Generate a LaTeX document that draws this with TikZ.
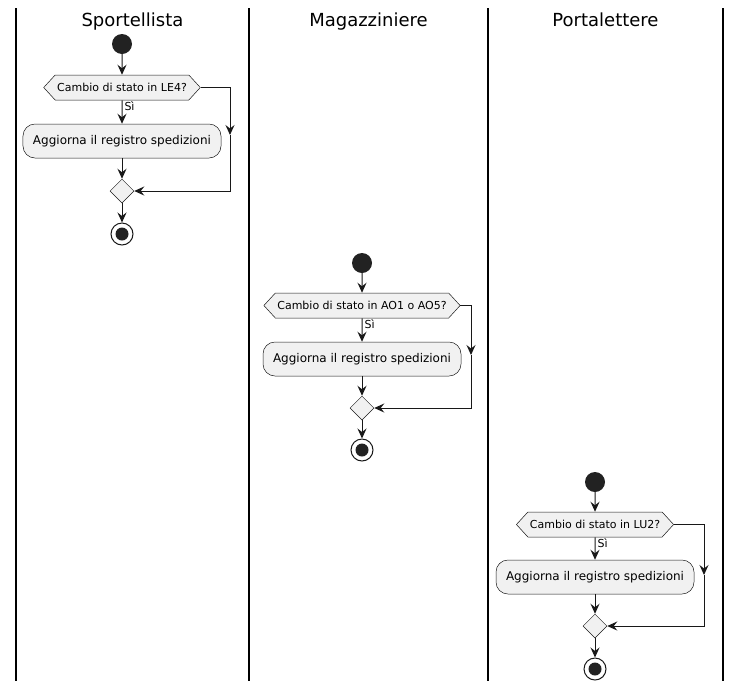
\documentclass[tikz,border=0pt]{standalone}
\usepackage{fontspec}
\setmainfont{DejaVu Sans}
\usetikzlibrary{shapes.geometric}
\usetikzlibrary{shapes.symbols}
\usetikzlibrary{arrows.meta}

\definecolor{pu_line}{HTML}{181818}
\definecolor{pu_dot}{HTML}{222222}
\definecolor{pu_fill}{HTML}{F1F1F1}

\begin{document}
\begin{tikzpicture}[x=1pt,y=-1pt,
  lane/.style={draw=black,line width=1.5pt},
  lane title/.style={font=\fontsize{18}{20}\selectfont,anchor=base},
  start/.style={circle,fill=pu_dot,minimum size=20pt,inner sep=0pt},
  stop/.style={circle,draw=pu_line,line width=1pt,fill=white,minimum size=22pt,inner sep=0pt,path picture={\fill[pu_dot] (path picture bounding box.center) circle (6.5pt);}},
  decision/.style={signal,signal to=west and east,signal pointer angle=95,draw=pu_line,line width=0.5pt,fill=pu_fill,minimum height=25pt,inner xsep=2pt,inner ysep=0pt,font=\fontsize{11}{13}\selectfont},
  action/.style={rectangle,rounded corners=12pt,draw=pu_line,line width=0.5pt,fill=pu_fill,minimum height=34pt,inner xsep=10pt,font=\fontsize{12}{14}\selectfont},
  merge/.style={diamond,aspect=1,draw=pu_line,line width=0.5pt,fill=pu_fill,minimum size=24pt,inner sep=0pt},
  flow/.style={draw=pu_line,line width=1pt,-{Stealth[length=10pt,width=9pt,inset=3.5pt]}},
  yes/.style={anchor=west,inner sep=2pt,font=\fontsize{11}{13}\selectfont}
  ]

\useasboundingbox (0,0) rectangle (741,689);

% swimlanes
\draw[lane] (16,8) -- (16,681);
\draw[lane] (249,8) -- (249,681);
\draw[lane] (488,8) -- (488,681);
\draw[lane] (723,8) -- (723,681);

\node[lane title] (title1) at (132.5,26) {Sportellista};
\node[lane title] (title2) at (368.5,26) {Magazziniere};
\node[lane title] (title3) at (605.5,26) {Portalettere};

% Sportellista
\node[start] (start1) at (122,44) {};
\node[decision] (dec1) at (122,87.5) {Cambio di stato in LE4?};
\node[action] (act1) at (122,141) {Aggiorna il registro spedizioni};
\node[merge] (merge1) at (122,191) {};
\node[stop] (stop1) at (122,234) {};
\coordinate (br1) at (230,135);

\draw[flow] (start1) -- (dec1);
\draw[flow] (dec1) -- node[yes,pos=0.25] {Sì} (act1);
\draw[flow] (act1) -- (merge1);
\draw[flow] (dec1.east) -| (br1);
\draw[flow] (br1) |- (merge1.east);
\draw[flow] (merge1) -- (stop1);

% Magazziniere
\node[start] (start2) at (362,263) {};
\node[decision] (dec2) at (362,305.5) {Cambio di stato in AO1 o AO5?};
\node[action] (act2) at (362,359) {Aggiorna il registro spedizioni};
\node[merge] (merge2) at (362,408) {};
\node[stop] (stop2) at (362,450) {};
\coordinate (br2) at (471,355);

\draw[flow] (start2) -- (dec2);
\draw[flow] (dec2) -- node[yes,pos=0.25] {Sì} (act2);
\draw[flow] (act2) -- (merge2);
\draw[flow] (dec2.east) -| (br2);
\draw[flow] (br2) |- (merge2.east);
\draw[flow] (merge2) -- (stop2);

% Portalettere
\node[start] (start3) at (595,482) {};
\node[decision] (dec3) at (595,524.5) {Cambio di stato in LU2?};
\node[action] (act3) at (595,577) {Aggiorna il registro spedizioni};
\node[merge] (merge3) at (595,626) {};
\node[stop] (stop3) at (595,669) {};
\coordinate (br3) at (704,575);

\draw[flow] (start3) -- (dec3);
\draw[flow] (dec3) -- node[yes,pos=0.25] {Sì} (act3);
\draw[flow] (act3) -- (merge3);
\draw[flow] (dec3.east) -| (br3);
\draw[flow] (br3) |- (merge3.east);
\draw[flow] (merge3) -- (stop3);

\end{tikzpicture}
\end{document}
